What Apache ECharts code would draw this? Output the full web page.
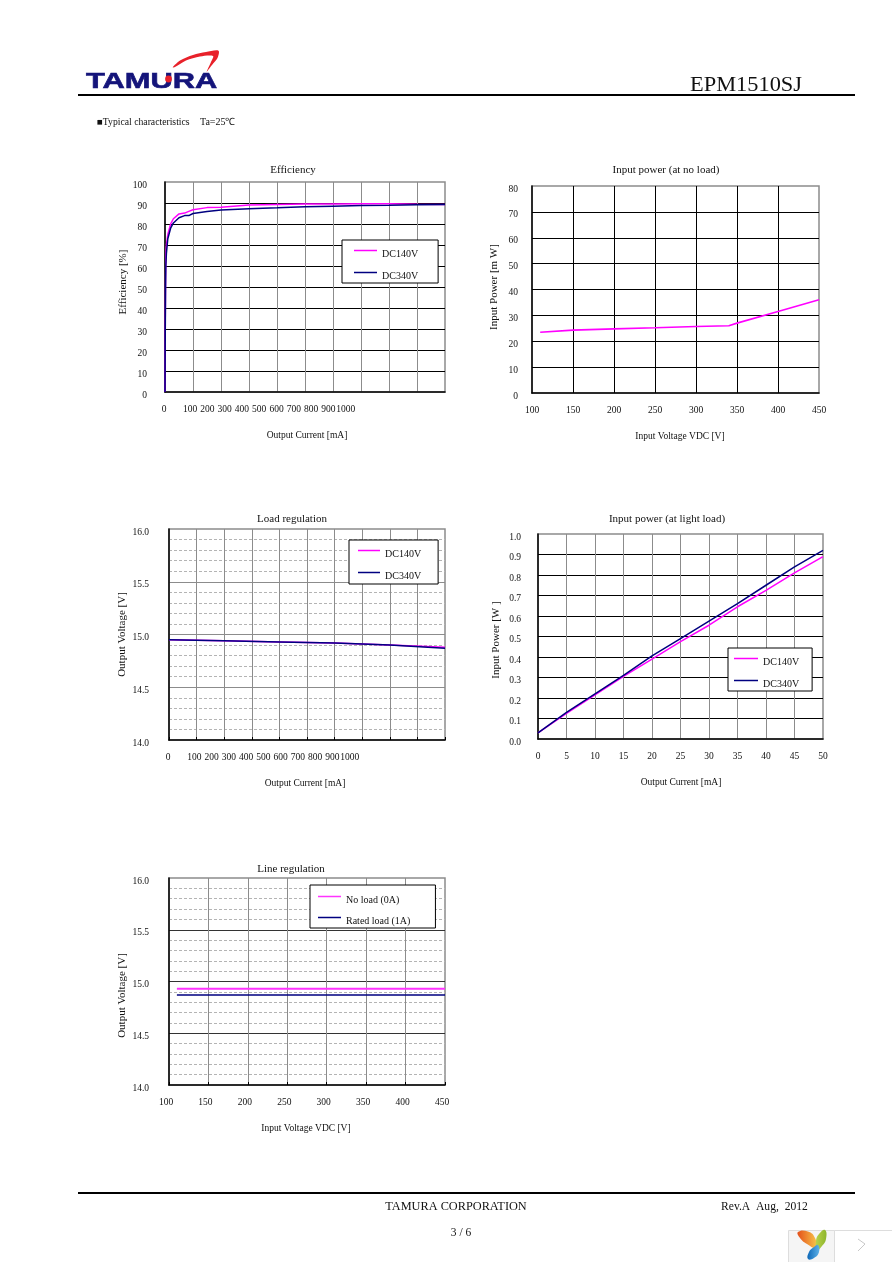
<!DOCTYPE html>
<html><head><meta charset="utf-8">
<style>html,body{margin:0;padding:0;background:#fff}#c{width:892px;height:1262px}</style>
<script src="https://cdn.jsdelivr.net/npm/echarts@6/dist/echarts.min.js"></script>
</head><body><div id="c"></div>
<script>
const currentAxisLabels = ['0','100','200','300','400','500','600','700','800','900','1000'];

const effCurrent = [0,1,2,3,5,10,20,30,50,70,85,100,150,200,300,400,500,600,700,800,900,1000];
const eff140 = [0,35,55,65,70,75,80,82.5,84.8,85.2,86,86.8,87.8,88,89,89.3,89.5,89.5,89.7,89.6,89.4,89.3];
const eff340 = [0,30,50,60,66,73,78,80.5,83,84,84,85,86,86.7,87.3,87.7,88.2,88.5,88.8,88.9,89.2,89.3];

const noLoadVoltage = [110,150,200,250,300,340,350,400,450];
const noLoadPower = [23.5,24.3,24.8,25.2,25.7,26,27,31.5,36];

const loadCurrent = [0,200,400,600,800,1000];
const load140 = [14.95,14.94,14.93,14.92,14.90,14.88];
const load340 = [14.95,14.94,14.93,14.92,14.90,14.87];

const lightCurrent = [0,5,10,15,20,25,30,35,40,45,50];
const light140 = [0.03,0.125,0.215,0.305,0.39,0.475,0.555,0.645,0.725,0.81,0.89];
const light340 = [0.03,0.13,0.22,0.31,0.405,0.49,0.575,0.66,0.75,0.84,0.92];

const lineVoltage = [110,200,300,400,450];
const lineNoLoad = [14.93,14.93,14.93,14.93,14.93];
const lineRated = [14.87,14.87,14.87,14.87,14.87];

const MAG='#ff00ff', NAVY='#000080', SERIF='"Liberation Serif","Times New Roman",serif', TXT='#111', GRAY='#8c8c8c';
const zip=(a,b)=>a.map((v,i)=>[v,b[i]]);

const charts=[
 {title:'Efficiency',tx:293,ty:170,l:165,t:182,w:280,h:210,xMin:0,xMax:1000,xInt:100,yMin:0,yMax:100,yInt:10,dec:0,
  xName:'Output Current [mA]',xnDx:2,xnY:435,yName:'Efficiency [%]',ynX:124,ynDy:-5,yMargin:18,customX:{x0:164,x1:190,step:17.3,y:409},
  hCol:'#000',vCol:GRAY,border:GRAY,ticks:false,
  series:[{name:'DC140V',d:zip(effCurrent,eff140),c:MAG,w:1.5},{name:'DC340V',d:zip(effCurrent,eff340),c:NAVY,w:1.5}],
  leg:{l:342,t:240,pad:[9,20,2,12],gap:12,iw:23}},
 {title:'Input power (at no load)',tx:666,ty:170,l:532,t:186,w:287,h:207,xMin:100,xMax:450,xInt:50,yMin:0,yMax:80,yInt:10,dec:0,
  xName:'Input Voltage VDC [V]',xnDx:4.5,xnY:436,yName:'Input Power [m W]',ynX:494,ynDy:-2.5,yMargin:14,
  hCol:'#000',vCol:'#000',border:GRAY,ticks:false,
  series:[{name:'No load',d:zip(noLoadVoltage,noLoadPower),c:MAG,w:1.6}]},
 {title:'Load regulation',tx:292,ty:519,l:169,t:529,w:276,h:211,xMin:0,xMax:1000,xInt:100,yMin:14,yMax:16,yInt:0.5,dec:1,minor:true,
  xName:'Output Current [mA]',xnDx:-2,xnY:783,yName:'Output Voltage [V]',ynX:122,ynDy:0,yMargin:20,customX:{x0:168,x1:194.3,step:17.27,y:757},
  hCol:GRAY,vCol:GRAY,border:GRAY,ticks:true,
  series:[{name:'DC140V',d:zip(loadCurrent,load140),c:MAG,w:1.5},{name:'DC340V',d:zip(loadCurrent,load340),c:NAVY,w:1.5}],
  leg:{l:349,t:540,pad:[9,17,3,9],gap:12,iw:22}},
 {title:'Input power (at light load)',tx:667,ty:519,l:538,t:534,w:285,h:205,xMin:0,xMax:50,xInt:5,yMin:0,yMax:1,yInt:0.1,dec:1,
  xName:'Output Current [mA]',xnDx:0.5,xnY:782,yName:'Input Power [W ]',ynX:496,ynDy:3.5,yMargin:17,
  hCol:'#000',vCol:GRAY,border:GRAY,ticks:false,
  series:[{name:'DC140V',d:zip(lightCurrent,light140),c:MAG,w:1.5},{name:'DC340V',d:zip(lightCurrent,light340),c:NAVY,w:1.5}],
  leg:{l:728,t:648,pad:[9,13,2,6],gap:12,iw:24}},
 {title:'Line regulation',tx:291,ty:869,l:169,t:878,w:276,h:207,xMin:100,xMax:450,xInt:50,yMin:14,yMax:16,yInt:0.5,dec:1,minor:true,
  xName:'Input Voltage VDC [V]',xnDx:-1,xnY:1128,yName:'Output Voltage [V]',ynX:122,ynDy:14,yMargin:20,xLabelShift:6,
  hCol:'#333',vCol:GRAY,border:GRAY,ticks:true,
  series:[{name:'No load (0A)',d:zip(lineVoltage,lineNoLoad),c:'#ff33ff',w:2},{name:'Rated load (1A)',d:zip(lineVoltage,lineRated),c:NAVY,w:1.5}],
  leg:{l:310,t:885,pad:[10,25,2,8],gap:11,iw:23}}
];

const grid=[],xAxis=[],yAxis=[],series=[],title=[],legend=[],graphic=[];
const txt=(s,x,y,size,o={})=>graphic.push(Object.assign({type:'text',x,y,z:50,style:{text:s,fill:o.fill||TXT,font:(o.weight||'normal')+' '+size+'px '+(o.family||SERIF),textAlign:o.align||'left',textVerticalAlign:'middle'}},o.extra||{}));

charts.forEach((c,i)=>{
  grid.push({left:c.l,top:c.t,width:c.w,height:c.h,show:true,borderColor:c.border,borderWidth:1.5,backgroundColor:'#fff',containLabel:false});
  const bottomGap=c.xnY-(c.t+c.h);
  xAxis.push({type:'value',gridIndex:i,min:c.xMin,max:c.xMax,interval:c.xInt,
    name:c.xName,nameLocation:'middle',nameGap:bottomGap,
    nameTextStyle:{fontFamily:SERIF,fontSize:9.5,color:TXT,verticalAlign:'middle',padding:c.xnDx>0?[0,0,0,2*c.xnDx]:[0,-2*c.xnDx,0,0]},
    axisLine:{show:true,lineStyle:{color:'#000',width:1.5}},
    axisTick:{show:c.ticks,inside:true,length:3,lineStyle:{color:'#000'}},
    axisLabel:{show:!c.customX,margin:12,fontFamily:SERIF,fontSize:9.5,color:TXT,padding:c.xLabelShift?[0,c.xLabelShift,0,0]:0},
    splitLine:{show:true,showMinLine:false,showMaxLine:false,lineStyle:{color:c.vCol,width:1}}});
  yAxis.push({type:'value',gridIndex:i,min:c.yMin,max:c.yMax,interval:c.yInt,
    name:c.yName,nameLocation:'middle',nameRotate:90,nameGap:c.l-c.ynX,
    nameTextStyle:{fontFamily:SERIF,fontSize:11,color:TXT,verticalAlign:'middle',padding:c.ynDy>0?[0,2*c.ynDy,0,0]:[0,0,0,-2*c.ynDy]},
    axisLine:{show:true,lineStyle:{color:'#000',width:1.5}},axisTick:{show:false},
    axisLabel:{margin:c.yMargin,color:TXT,formatter:v=>'{a|'+v.toFixed(c.dec)+'}',
      rich:{a:{fontFamily:SERIF,fontSize:9.5,color:TXT,padding:[6,0,0,0]}}},
    splitLine:{show:true,showMinLine:false,showMaxLine:false,lineStyle:{color:c.hCol,width:1}},
    minorTick:{show:false,splitNumber:5},
    minorSplitLine:{show:!!c.minor,lineStyle:{color:'#b4b4b4',type:[3,2],width:1}}});
  c.series.forEach(s=>series.push({type:'line',name:s.name,xAxisIndex:i,yAxisIndex:i,data:s.d,showSymbol:false,symbol:'none',smooth:false,
    lineStyle:{color:s.c,width:s.w},itemStyle:{color:s.c},z:5,clip:true}));
  title.push({text:c.title,left:c.tx,top:c.ty-6,textAlign:'center',padding:0,textStyle:{fontFamily:SERIF,fontSize:11,fontWeight:'normal',color:TXT,lineHeight:12}});
  if(c.leg) legend.push({show:true,orient:'vertical',left:c.leg.l,top:c.leg.t,padding:c.leg.pad,itemGap:c.leg.gap,itemWidth:c.leg.iw,itemHeight:1.5,icon:'rect',
    selectedMode:false,backgroundColor:'#fff',borderColor:'#000',borderWidth:1,borderRadius:0,z:20,
    data:c.series.map(s=>s.name),formatter:n=>'{a|'+n+'}',
    textStyle:{rich:{a:{fontFamily:SERIF,fontSize:10,color:TXT,padding:[7,0,0,0]}}}});
  if(c.customX) currentAxisLabels.forEach((t,k)=>{
    const x=k===0?c.customX.x0:c.customX.x1+(k-1)*c.customX.step;
    txt(t,x,c.customX.y,9.5,{align:'center'});
  });
});

// page furniture
const rule=(x1,x2,y)=>graphic.push({type:'line',z:40,shape:{x1,y1:y,x2,y2:y},style:{stroke:'#000',lineWidth:2}});
rule(78,855,95); rule(78,855,1193);
txt('EPM1510SJ',690,86,20,{extra:{scaleX:1.12}});
txt('■Typical characteristics',97,122,9.7);
txt('Ta=25℃',200,122,10);
txt('TAMURA CORPORATION',456,1206.5,12.3,{align:'center'});
txt('Rev.A  Aug,  2012',721,1206.5,11.6);
txt('3 / 6',461,1233,11.5,{align:'center'});

// logo
graphic.push({type:'text',x:86,y:81.5,z:45,scaleX:1.4,style:{text:'TAMURA',fill:'#14147a',stroke:'#14147a',lineWidth:0.6,font:'bold 22px "Liberation Sans",Arial,sans-serif',textAlign:'left',textVerticalAlign:'middle'}});
graphic.push({type:'circle',z:46,shape:{cx:168.5,cy:79,r:3.4},style:{fill:'#e8212a'}});
graphic.push({type:'polygon',z:46,shape:{smooth:0.3,points:[[172.7,67.3],[180,60.5],[193,55],[206,52],[218.5,50.7],[217.5,58],[212,65],[206.7,71.7],[211,62],[213,56],[200,56.5],[186,60.5],[175,67]]},style:{fill:'#e8212a'}});

// viewer widget
graphic.push({type:'rect',z:60,shape:{x:788.5,y:1230.5,width:46,height:40},style:{fill:'#f5f5f5',stroke:'#dddddd',lineWidth:1}});
graphic.push({type:'rect',z:60,shape:{x:834.5,y:1230.5,width:60,height:40},style:{fill:'#fff',stroke:'#dddddd',lineWidth:1}});
graphic.push({type:'polyline',z:61,shape:{points:[[858,1239],[865,1244],[858,1251]]},style:{stroke:'#c8c8c8',fill:'none',lineWidth:1}});
const grad=(a,b)=>({type:'linear',x:0,y:0,x2:1,y2:0,colorStops:[{offset:0,color:a},{offset:1,color:b}]});
graphic.push({type:'polygon',z:61,shape:{smooth:0.5,points:[[798,1232],[808,1231.5],[815,1238],[816,1248],[807,1244],[800,1238]]},style:{fill:grad('#e4501a','#f8c54a')}});
graphic.push({type:'polygon',z:61,shape:{smooth:0.5,points:[[825,1230],[826,1239],[822,1246],[817,1250],[816,1241],[819,1234]]},style:{fill:grad('#b9d24a','#8db52c')}});
graphic.push({type:'polygon',z:61,shape:{smooth:0.5,points:[[808,1259],[809,1252],[814,1247],[818,1245],[819,1252],[814,1258]]},style:{fill:grad('#0d68b8','#5fb2e8')}});

const chart=echarts.init(document.getElementById('c'),null,{renderer:'canvas'});
chart.setOption({animation:false,backgroundColor:'#fff',tooltip:{show:false},grid,xAxis,yAxis,series,title,legend,graphic});
</script></body></html>
